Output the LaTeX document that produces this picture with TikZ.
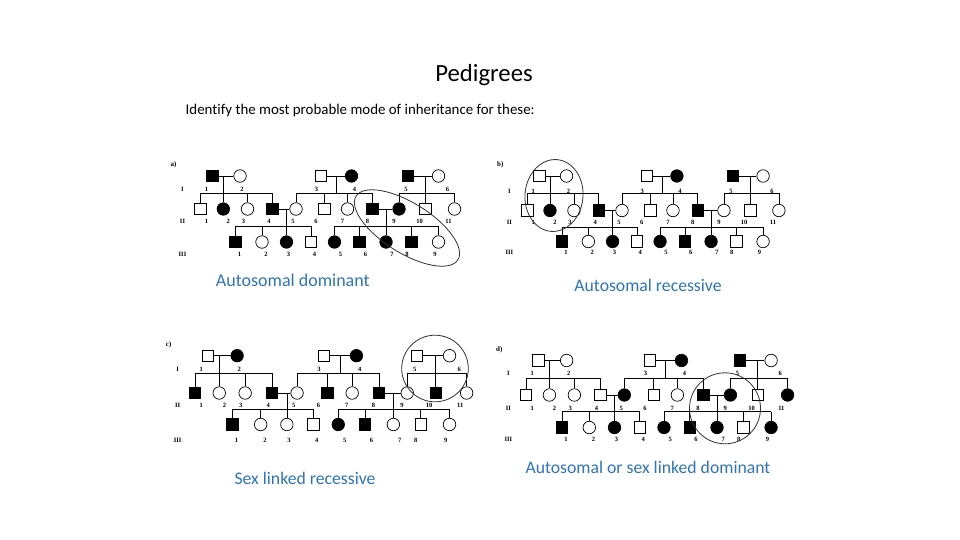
\documentclass[tikz,border=0pt]{standalone}
\usepackage{fontspec}
\setmainfont[Ligatures=NoCommon]{Carlito}
\newfontfamily\pedfont{Liberation Serif}
\usetikzlibrary{calc}
\definecolor{lblblue}{RGB}{47,117,181}
\tikzset{
  pmale/.style={draw, rectangle, minimum size=11.5pt, inner sep=0pt, line width=0.7pt},
  pfem/.style={draw, circle, minimum size=12.5pt, inner sep=0pt, line width=0.7pt},
  numlab/.style={font=\pedfont\bfseries\fontsize{6.5}{6.5}\selectfont, inner sep=0pt},
  link/.style={line width=0.6pt},
  ring/.style={line width=0.8pt, draw=black!80},
  bluelab/.style={font=\fontsize{17.7}{20}\selectfont, text=lblblue, anchor=base, inner sep=0pt},
}
\newcommand\drawped{%
  \foreach \z in \aff {\expandafter\xdef\csname aff\pp\z\endcsname{1}}%
  \foreach \n/\x/\g/\sh/\lab/\dx in {
    I1/0/I/pmale/1/-6, I2/27.5/I/pfem/2/2, I3/108.5/I/pmale/3/-4.5, I4/139/I/pfem/4/3,
    I5/195.5/I/pmale/5/-2, I6/226/I/pfem/6/9,
    II1/-12/II/pmale/1/6, II2/10.8/II/pfem/2/5, II3/35/II/pfem/3/-4, II4/60/II/pmale/4/-3.5,
    II5/83.5/II/pfem/5/-3, II6/112/II/pmale/6/-8.5, II7/135/II/pfem/7/-5, II8/160/II/pmale/8/-5,
    II9/186.5/II/pfem/9/-5, II10/213/II/pmale/10/-6, II11/242/II/pfem/11/-6,
    III1/23/III/pmale/1/4, III2/49.5/III/pfem/2/4, III3/74/III/pfem/3/2, III4/98.5/III/pmale/4/3.5,
    III5/122/III/pfem/5/6, III6/147/III/pmale/6/6, III7/173.5/III/pfem/7/6,
    III8/199/III/pmale/8/-4.5, III9/226/III/pfem/9/-3.5}{%
    \ifcsname aff\pp\n\endcsname \def\fc{black}\else \def\fc{white}\fi
    \edef\yy{\csname y\g\endcsname}%
    \edef\ly{\csname l\g\endcsname}%
    \node[\sh, fill=\fc] (\pp\n) at ({\ox+\sx*\x}, \yy) {};
    \node[numlab] (\pp L\n) at ({\ox+\sx*(\x+\dx)}, \ly) {\lab};
  }
  \node[numlab] (\pp RI) at (\ox-30, \lI) {I};
  \node[numlab] (\pp RII) at (\ox-30, \lII) {II};
  \node[numlab] (\pp RIII) at (\ox-30, \lIII) {III};
  \node[numlab, font=\pedfont\bfseries\fontsize{7}{7}\selectfont] (\pp P) at (\ox-39, \yI-11) {\ptxt};
  \coordinate (\pp s1) at (0, \ySa);
  \coordinate (\pp s2) at (0, \ySb);
  % couple I1 x I2
  \draw[link] (\pp I1) -- (\pp I2);
  \draw[link] (\pp II2.north |- \pp I1) -- (\pp II2.north);
  \draw[link] (\pp II1.north |- \pp s1) -- (\pp II4.north |- \pp s1);
  \foreach \c in {II1,II3,II4} \draw[link] (\pp\c.north) -- (\pp\c.north |- \pp s1);
  % couple I3 x I4
  \draw[link] (\pp I3) -- (\pp I4);
  \coordinate (\pp m2) at ($(\pp I3)!.5!(\pp I4)$);
  \draw[link] (\pp m2) -- (\pp m2 |- \pp s1);
  \draw[link] (\pp II5.north |- \pp s1) -- (\pp II8.north |- \pp s1);
  \foreach \c in {II5,II6,II7,II8} \draw[link] (\pp\c.north) -- (\pp\c.north |- \pp s1);
  % couple I5 x I6
  \draw[link] (\pp I5) -- (\pp I6);
  \draw[link] (\pp II10.north |- \pp I5) -- (\pp II10.north);
  \draw[link] (\pp II9.north |- \pp s1) -- (\pp II11.north |- \pp s1);
  \foreach \c in {II9,II11} \draw[link] (\pp\c.north) -- (\pp\c.north |- \pp s1);
  % couple II4 x II5
  \draw[link] (\pp II4) -- (\pp II5);
  \draw[link] (\pp III3.north |- \pp II4) -- (\pp III3.north);
  \draw[link] (\pp III1.north |- \pp s2) -- (\pp III4.north |- \pp s2);
  \foreach \c in {III1,III2,III4} \draw[link] (\pp\c.north) -- (\pp\c.north |- \pp s2);
  % couple II8 x II9
  \draw[link] (\pp II8) -- (\pp II9);
  \draw[link] (\pp III7.north |- \pp II8) -- (\pp III7.north);
  \draw[link] (\pp III5.north |- \pp s2) -- (\pp III9.north |- \pp s2);
  \foreach \c in {III5,III6,III8,III9} \draw[link] (\pp\c.north) -- (\pp\c.north |- \pp s2);
}
\begin{document}
\begin{tikzpicture}[x=1pt,y=-1pt]
\useasboundingbox (0,0) rectangle (960,540);
\fill[white] (0,0) rectangle (960,540);

\node[font=\fontsize{24.7}{28}\selectfont, anchor=base, inner sep=0pt] (title) at (484,81.7) {Pedigrees};
\node[font=\fontsize{14.9}{17}\selectfont, anchor=base west, inner sep=0pt] (sub) at (185.5,115) {Identify the most probable mode of inheritance for these:};

% a)
\def\pp{a}\def\ox{212.5}\def\sx{1}
\def\yI{176}\def\ySa{193}\def\yII{209}\def\ySb{226}\def\yIII{242}
\def\lI{189}\def\lII{221.7}\def\lIII{254.3}
\def\ptxt{a)}
\def\aff{I1,I4,I5,II2,II4,II8,II9,III1,III3,III5,III6,III7,III8}
\drawped

% b)
\def\pp{b}\def\ox{539.3}\def\sx{0.99}
\def\yI{176}\def\ySa{193.3}\def\yII{210.5}\def\ySb{227}\def\yIII{241.5}
\def\lI{191}\def\lII{222}\def\lIII{252}
\def\ptxt{b)}
\def\aff{I4,I5,II2,II4,II8,III1,III3,III5,III6,III7}
\drawped

% c)
\def\pp{c}\def\ox{207.7}\def\sx{1.07}
\def\yI{355.7}\def\ySa{373.3}\def\yII{393}\def\ySb{409}\def\yIII{424.5}
\def\lI{369}\def\lII{405}\def\lIII{440}
\def\ptxt{c)}
\def\aff{I2,I4,II1,II4,II6,II8,II10,III1,III5,III6}
\drawped

% d)
\def\pp{d}\def\ox{538.3}\def\sx{1.03}
\def\yI{360.5}\def\ySa{378.3}\def\yII{395}\def\ySb{411.7}\def\yIII{427.5}
\def\lI{373.3}\def\lII{408.3}\def\lIII{439}
\def\ptxt{d)}
\def\aff{I4,I5,II5,II8,II9,II11,III1,III3,III5,III6,III7,III9}
\drawped

% rings
\draw[ring, rotate around={-32:(407,228)}] (407,228) ellipse [x radius=60pt, y radius=25pt];
\draw[ring, rotate around={-5:(554,195.5)}] (554,195.5) ellipse [x radius=29pt, y radius=36pt];
\draw[ring] (435,368.5) circle [radius=33.3pt];
\draw[ring] (725,408.3) circle [radius=35.5pt];

% captions
\node[bluelab, font=\fontsize{18}{20}\selectfont] (capa) at (292.8,286.3) {Autosomal dominant};
\node[bluelab] (capb) at (648,291.5) {Autosomal recessive};
\node[bluelab] (capc) at (305,484.5) {Sex linked recessive};
\node[bluelab] (capd) at (648,473.5) {Autosomal or sex linked dominant};
\end{tikzpicture}
\end{document}
